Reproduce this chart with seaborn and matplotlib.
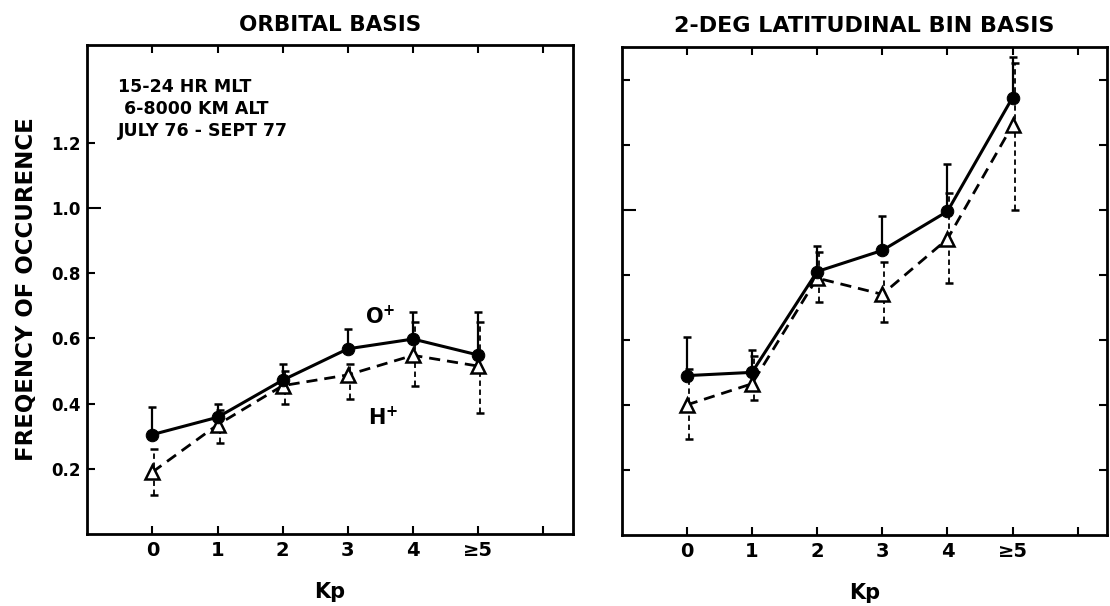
import numpy as np
import matplotlib
matplotlib.use("Agg")
import matplotlib.pyplot as plt
import seaborn as sns
import pandas as pd

# ---- data ----
kp = [0, 1, 2, 3, 4, 5]
kp_labels = ["0", "1", "2", "3", "4", "≥5"]

# Orbital basis
orb_O = [0.305, 0.358, 0.472, 0.568, 0.598, 0.549]
orb_O_up = [0.39, 0.40, 0.52, 0.63, 0.68, 0.68]
orb_H = [0.19, 0.335, 0.455, 0.488, 0.548, 0.515]
orb_H_lo = [0.12, 0.28, 0.40, 0.415, 0.455, 0.37]
orb_H_up = [0.26, 0.38, 0.50, 0.52, 0.65, 0.65]

# 2-deg latitudinal bin basis
lat_O = [0.49, 0.50, 0.81, 0.875, 0.995, 1.345]
lat_O_up = [0.61, 0.57, 0.89, 0.98, 1.14, 1.47]
lat_H = [0.40, 0.465, 0.79, 0.74, 0.91, 1.26]
lat_H_lo = [0.295, 0.415, 0.715, 0.655, 0.775, 1.0]
lat_H_up = [0.51, 0.55, 0.87, 0.84, 1.05, 1.45]

titles = ["ORBITAL BASIS", "2-DEG LATITUDINAL BIN BASIS"]
ylabel = "FREQENCY OF OCCURENCE"
xlabel = "Kp"
note = "15-24 HR MLT\n 6-8000 KM ALT\nJULY 76 - SEPT 77"

sns.set_theme(style="ticks")
plt.rcParams['font.family'] = ['DejaVu Sans']
plt.rcParams['text.color'] = 'black'
plt.rcParams['axes.labelcolor'] = 'black'
plt.rcParams['xtick.color'] = 'black'
plt.rcParams['ytick.color'] = 'black'

fig = plt.figure(figsize=(11.10, 6.06), dpi=100)
axL = fig.add_axes([0.0786, 0.1188, 0.4373, 0.807])
axR = fig.add_axes([0.5601, 0.1172, 0.4372, 0.805])

def draw(ax, O, O_up, H, H_lo, H_up):
    O = np.array(O); H = np.array(H)
    ax.errorbar(kp, O, yerr=[np.zeros_like(O), np.array(O_up) - O],
                fmt='none', ecolor='black', elinewidth=1.6, capsize=3, capthick=1.8, zorder=2)
    eb2 = ax.errorbar(np.array(kp) + 0.03, H, yerr=[H - np.array(H_lo), np.array(H_up) - H],
                      fmt='none', ecolor='black', elinewidth=1.3, capsize=3, capthick=1.8, zorder=2)
    for lc in eb2[2]:
        lc.set_linestyle((0, (3, 2)))
    dfO = pd.DataFrame({"kp": kp, "val": O})
    dfH = pd.DataFrame({"kp": kp, "val": H})
    sns.lineplot(data=dfH, x="kp", y="val", ax=ax, color='black', linewidth=2.0,
                 linestyle=(0, (4, 2.5)), marker='^', markersize=9.5, markerfacecolor='white',
                 markeredgecolor='black', markeredgewidth=1.8, zorder=3)
    sns.lineplot(data=dfO, x="kp", y="val", ax=ax, color='black', linewidth=2.2,
                 marker='o', markersize=9, markerfacecolor='black',
                 markeredgecolor='black', zorder=4)
    ax.set_xlim(-1, 6.45)
    ax.set_ylim(0, 1.5)
    ax.set_xticks([0, 1, 2, 3, 4, 5, 6])
    ax.set_xticklabels(kp_labels + [""], fontweight='bold', fontsize=14)
    for s in ax.spines.values():
        s.set_linewidth(2.0)
        s.set_color('black')
    ax.tick_params(direction='in', length=6, width=1.5, top=True, colors='black')
    ax.tick_params(axis='x', pad=5)
    ax.set_xlabel(xlabel, fontsize=15, fontweight='bold', va='baseline')
    ax.xaxis.set_label_coords(0.5, -0.131)
    ax.set_ylabel("")

draw(axL, orb_O, orb_O_up, orb_H, orb_H_lo, orb_H_up)
draw(axR, lat_O, lat_O_up, lat_H, lat_H_lo, lat_H_up)

axL.set_yticks([0.2, 0.4, 0.6, 0.8, 1.0, 1.2])
axL.set_yticklabels(["0.2", "0.4", "0.6", "0.8", "1.0", "1.2"], fontweight='bold', fontsize=12)
axL.tick_params(axis='y', right=False, pad=5)
axL.set_ylabel(ylabel, fontsize=16.5, fontweight='bold', va='center')
axL.yaxis.set_label_coords(-0.126, 0.5)
axL.yaxis.get_major_ticks()[4].tick1line.set_markersize(10)

axR.set_yticks([0.2, 0.4, 0.6, 0.8, 1.0, 1.2, 1.4])
axR.tick_params(axis='y', right=True, labelleft=False)
axR.yaxis.get_major_ticks()[4].tick1line.set_markersize(10)

axL.set_title(titles[0], fontsize=15.5, fontweight='bold', y=1.0286, pad=0)
axR.set_title(titles[1], fontsize=16, fontweight='bold', y=1.031, pad=0)

axL.text(-0.53, 1.40, note, fontsize=12.5, va='top', ha='left', fontweight='bold', linespacing=1.3)
axL.text(3.26, 0.644, r"$\mathbf{O^{+}}$", fontsize=15, ha='left', va='baseline')
axL.text(3.31, 0.335, r"$\mathbf{H^{+}}$", fontsize=15, ha='left', va='baseline')

fig.savefig("out.png", dpi=100)
